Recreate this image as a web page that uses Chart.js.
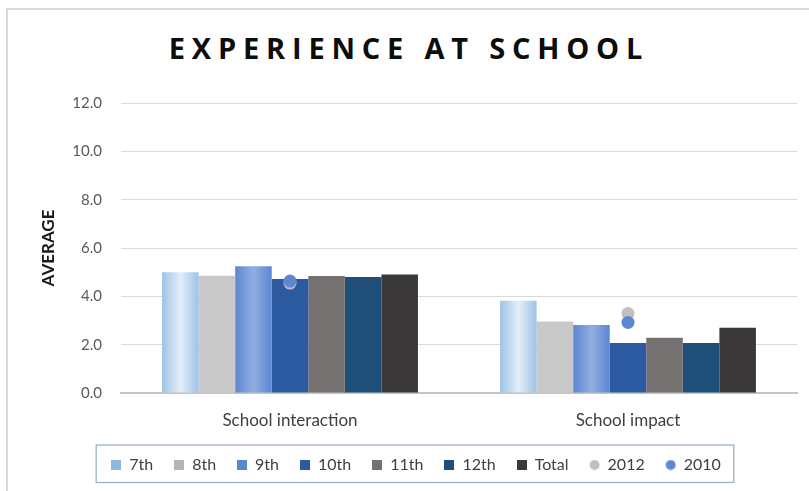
<!DOCTYPE html>
<html>
<head>
<meta charset="utf-8">
<script src="https://cdn.jsdelivr.net/npm/chart.js@4/dist/chart.umd.min.js"></script>
<style>
  html, body { margin: 0; padding: 0; background: #fff; width: 809px; height: 491px; overflow: hidden; }
  #frame { position: absolute; left: 6px; top: 8px; width: 900px; height: 600px; border-top: 2px solid #dadada; border-left: 2px solid #dadada; box-sizing: border-box; }
  #title { position: absolute; left: 0; width: 818px; top: 29px; text-align: center; font-family: 'Open Sans', sans-serif; font-weight: 700; font-size: 29px; line-height: 38px; letter-spacing: 6.8px; color: #0d0d0d; }
  #wrap { position: absolute; left: 0; top: 0; width: 809px; height: 491px; }
</style>
</head>
<body>
<div id="frame"></div>
<div id="title">EXPERIENCE AT SCHOOL</div>
<div id="wrap"><canvas id="c" width="809" height="491"></canvas></div>
<script>
const categories = ['School interaction', 'School impact'];
const barSeriesNames = ['7th', '8th', '9th', '10th', '11th', '12th', 'Total'];
const v7th   = [5.0, 3.82];
const v8th   = [4.85, 2.96];
const v9th   = [5.24, 2.81];
const v10th  = [4.72, 2.07];
const v11th  = [4.84, 2.29];
const v12th  = [4.80, 2.07];
const vTotal = [4.90, 2.70];
const v2012  = [4.55, 3.29];
const v2010  = [4.63, 2.92];
const yTicks = [0, 2, 4, 6, 8, 10, 12];

const CAT_PCT = 0.757;
const barValues = [v7th, v8th, v9th, v10th, v11th, v12th, vTotal];
const barColors = ['#9cc3e6', '#c9c9c9', '#5b87d0', '#2c5aa0', '#767171', '#1f4e79', '#3a3838'];
const barCenters = ['#e4eef9', null, '#91aee2', null, null, null, null];

function gradFill(c1, c2) {
  return function (ctx) {
    if (ctx.type !== 'data') return c1;
    const chart = ctx.chart;
    const xs = chart.scales.x;
    if (!xs || !chart.chartArea) return c1;
    const center = xs.getPixelForValue(ctx.dataIndex);
    const catW = xs.width / categories.length;
    const groupW = catW * CAT_PCT;
    const barW = groupW / barSeriesNames.length;
    const left = center - groupW / 2 + ctx.datasetIndex * barW;
    const g = chart.ctx.createLinearGradient(left, 0, left + barW, 0);
    g.addColorStop(0, c1);
    g.addColorStop(0.5, c2);
    g.addColorStop(1, c1);
    return g;
  };
}

const datasets = barSeriesNames.map((name, i) => ({
  type: 'bar',
  label: name,
  data: barValues[i],
  backgroundColor: barCenters[i] ? gradFill(barColors[i], barCenters[i]) : barColors[i],
  borderWidth: 0,
  categoryPercentage: CAT_PCT,
  barPercentage: 1.0,
  order: 2
}));
datasets.push({
  type: 'line', label: '2012', data: v2012, showLine: false,
  pointRadius: 6.5, pointHoverRadius: 6.5, pointBackgroundColor: '#c0c0c0', pointBorderWidth: 0,
  borderColor: '#c0c0c0', backgroundColor: '#c0c0c0', order: 1
});
datasets.push({
  type: 'line', label: '2010', data: v2010, showLine: false,
  pointRadius: 6.5, pointHoverRadius: 6.5, pointBackgroundColor: '#5d88d0', pointBorderWidth: 0,
  borderColor: '#5d88d0', backgroundColor: '#5d88d0', order: 0
});

const legendColors = ['#8fb8e0', '#b4b4b4', '#5a87d1', '#2c5aa0', '#767171', '#1f4e79', '#3a3838', '#c0c0c0', '#5d88d0'];

function circleImg(color) {
  const c = document.createElement('canvas');
  c.width = 11; c.height = 11;
  const x = c.getContext('2d');
  x.fillStyle = color;
  x.beginPath(); x.arc(5.5, 5.5, 5, 0, Math.PI * 2); x.fill();
  return c;
}
function squareImg(color) {
  const c = document.createElement('canvas');
  c.width = 10; c.height = 10;
  const x = c.getContext('2d');
  x.fillStyle = color;
  x.fillRect(0, 0, 10, 10);
  return c;
}

const legendBorder = {
  id: 'legendBorder',
  afterDraw(chart) {
    const lg = chart.legend;
    if (!lg || !lg.legendHitBoxes || !lg.legendHitBoxes.length) return;
    const hb = lg.legendHitBoxes;
    let l = Infinity, r = -Infinity;
    hb.forEach(b => { l = Math.min(l, b.left); r = Math.max(r, b.left + b.width); });
    const ctx = chart.ctx;
    const top = lg.top + 9;
    ctx.save();
    ctx.strokeStyle = '#9fb3c4';
    ctx.lineWidth = 1.3;
    ctx.strokeRect(l - 15, top, (r - l) + 28, lg.bottom - top - 0.5);
    ctx.restore();
  }
};

new Chart(document.getElementById('c'), {
  data: { labels: categories, datasets },
  options: {
    responsive: false,
    animation: false,
    devicePixelRatio: 1,
    layout: { padding: { top: 103, left: 35, right: 12, bottom: 8 } },
    plugins: {
      title: { display: false },
      tooltip: { enabled: false },
      legend: {
        position: 'bottom',
        labels: {
          usePointStyle: true,
          boxWidth: 10,
          boxHeight: 10,
          padding: 21,
          color: '#404040',
          font: { family: 'Lato', size: 16 },
          generateLabels(chart) {
            const items = Chart.defaults.plugins.legend.labels.generateLabels(chart);
            items.sort((a, b) => a.datasetIndex - b.datasetIndex);
            items.forEach(it => {
              const i = it.datasetIndex;
              it.pointStyle = i >= 7 ? circleImg(legendColors[i]) : squareImg(legendColors[i]);
              it.fillStyle = legendColors[i];
              it.strokeStyle = legendColors[i];
              it.lineWidth = 0;
            });
            return items;
          }
        }
      }
    },
    scales: {
      x: {
        grid: { display: false },
        border: { display: true, color: '#c4c4c4', width: 2 },
        ticks: { color: '#404040', font: { family: 'Lato', size: 17 }, padding: 9 },
        afterFit(scale) { scale.height = 43; }
      },
      y: {
        min: 0, max: 12,
        afterBuildTicks(scale) { scale.ticks = yTicks.map(v => ({ value: v })); },
        border: { display: false },
        grid: { color: ctx => ctx.tick && ctx.tick.value === 0 ? 'rgba(0,0,0,0)' : '#d9d9d9', drawTicks: false, lineWidth: 1 },
        ticks: { color: '#595959', font: { family: 'Lato', size: 15 }, padding: 19, callback: v => Number(v).toFixed(1) },
        title: { display: true, text: 'AVERAGE', color: '#1a1a1a', font: { family: 'Lato', size: 17, weight: 'bold' }, padding: { top: 3, bottom: 0 } },
        afterFit(scale) { scale.width = 86; }
      }
    }
  },
  plugins: [legendBorder]
});
</script>
</body>
</html>
